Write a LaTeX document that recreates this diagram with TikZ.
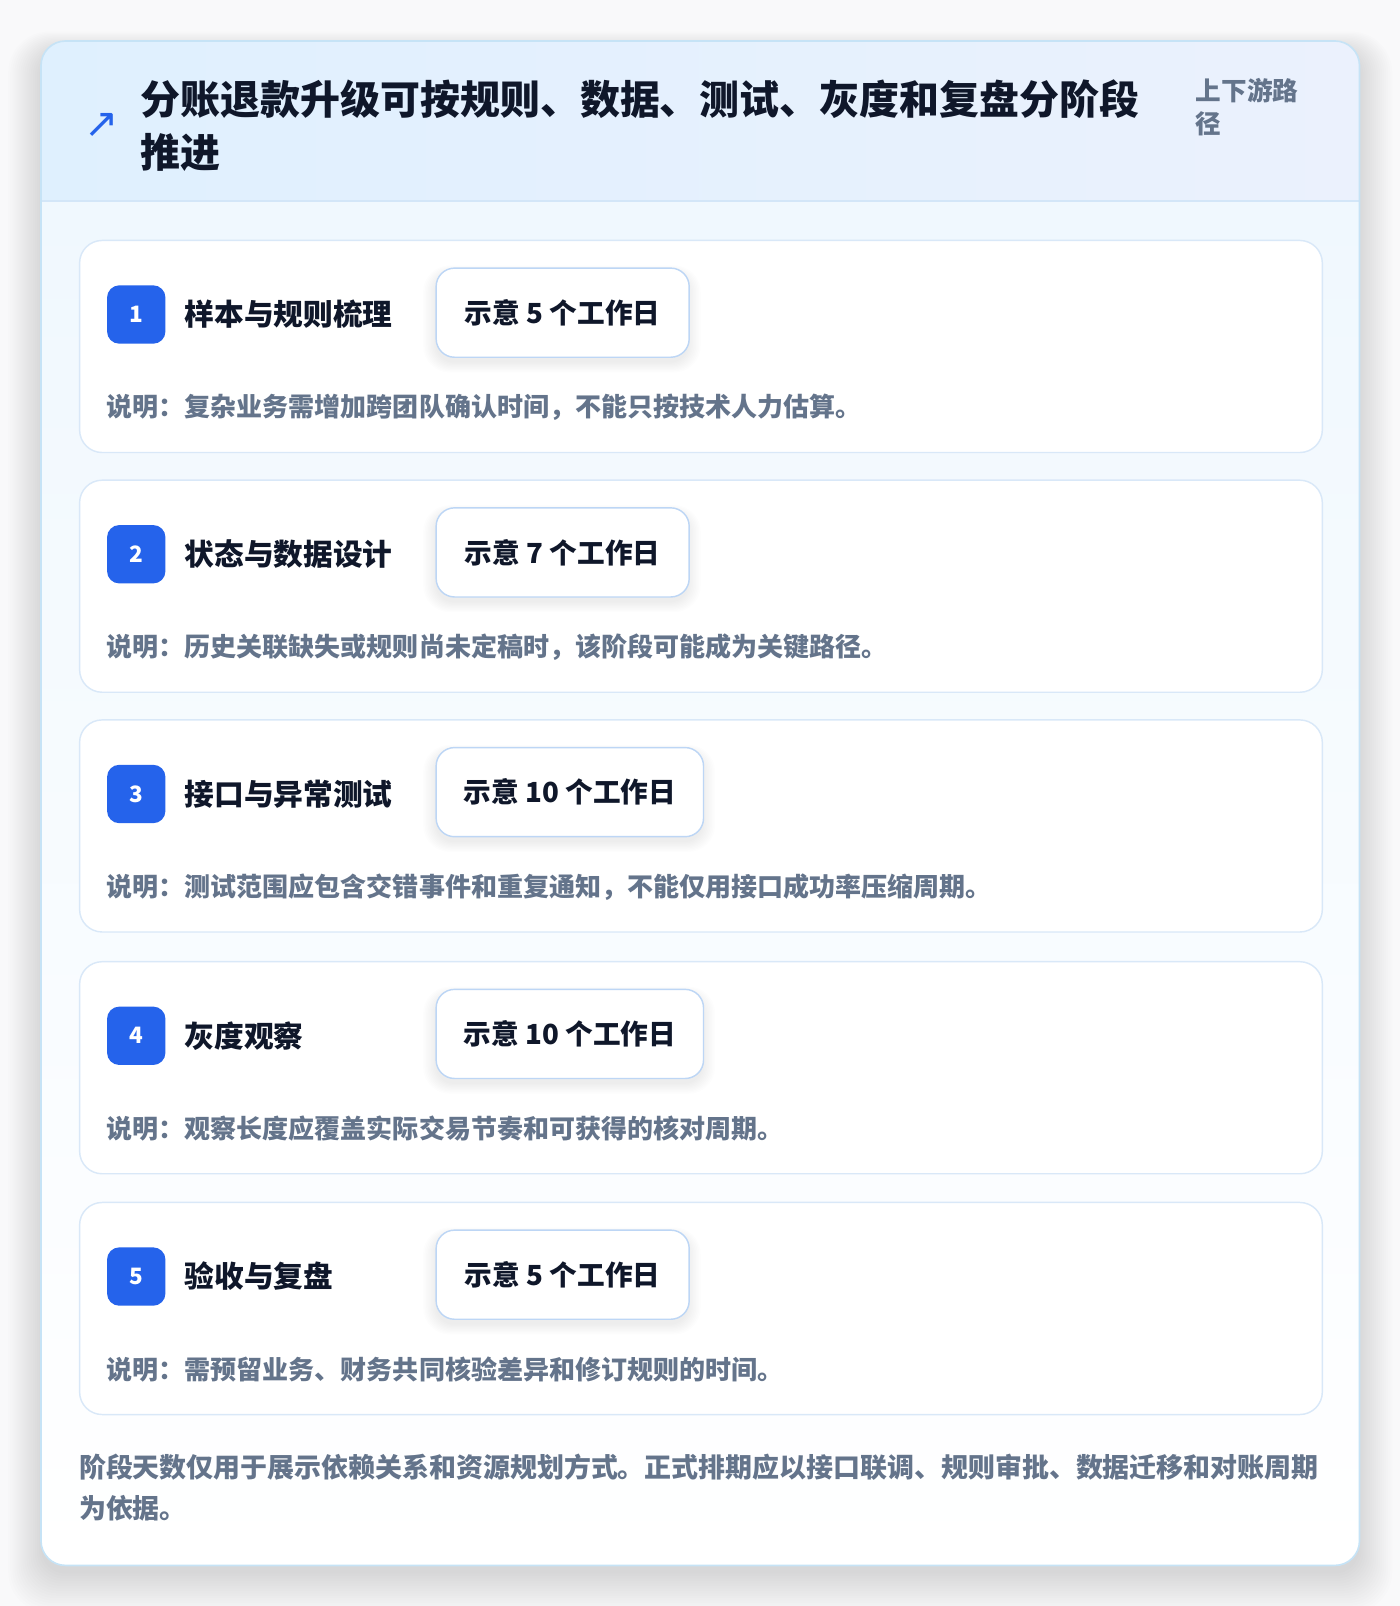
\documentclass[tikz,border=0pt]{standalone}
\usepackage{fontspec}
\setmainfont{Noto Sans CJK SC}
\newfontfamily\symfont{DejaVu Sans}
\definecolor{pagebg}{HTML}{F9F9FA}
\definecolor{outerborder}{HTML}{C6E3F6}
\definecolor{hdrl}{HTML}{DFF0FE}
\definecolor{hdrr}{HTML}{EBF1FD}
\definecolor{divider}{HTML}{D3E6F8}
\definecolor{bodytop}{HTML}{F0F8FE}
\definecolor{cardborder}{HTML}{D9E8F8}
\definecolor{pillborder}{HTML}{BDD6F5}
\definecolor{badgec}{HTML}{2563EB}
\definecolor{titlec}{HTML}{0F172A}
\definecolor{grayc}{HTML}{64748B}
\tikzset{
  card/.style={draw=cardborder, line width=1.4pt, fill=white, rounded corners=22pt, inner sep=0pt},
  badge/.style={fill=badgec, rounded corners=12pt, minimum width=57pt, minimum height=57pt, inner sep=0pt, text=white, font=\bfseries\fontsize{22}{22}\selectfont},
  steptitle/.style={anchor=west, inner sep=0pt, text=titlec, font=\bfseries\fontsize{29}{29}\selectfont},
  pill/.style={draw=pillborder, line width=1.4pt, fill=white, rounded corners=18pt, inner sep=0pt, minimum height=87pt, anchor=north west, text=titlec, font=\bfseries\fontsize{27}{27}\selectfont},
  desc/.style={anchor=west, inner sep=0pt, text=grayc, font=\bfseries\fontsize{25.4}{26}\selectfont},
}
\begin{document}
\begin{tikzpicture}[x=1pt,y=-1pt]
\useasboundingbox (0,0) rectangle (1366.5,1567.6);
\fill[pagebg] (0,0) rectangle (1366.5,1567.6);
% soft shadow of the outer card
\foreach \i in {0,...,16} {
  \fill[black, opacity=0.009, rounded corners={24+\i}] ({40-\i*2}, {50-\i*1.2}) rectangle ({1327+\i*2}, {1536+\i*2.4});
}
\begin{scope}
  \clip[rounded corners=24pt] (40,40) rectangle (1327,1528);
  \shade[top color=bodytop, bottom color=white] (40,196) rectangle (1327,1528);
  \shade[left color=hdrl, right color=hdrr] (40,40) rectangle (1327,196);
  \draw[divider, line width=1.4pt] (40,196) -- (1327,196);
\end{scope}
\draw[outerborder, line width=1.6pt, rounded corners=24pt] (40,40) rectangle (1327,1528);
% header
\node[text=badgec, inner sep=0pt, font=\symfont\fontsize{40}{40}\selectfont] (icon) at (99,122) {↗};
\node[anchor=west, inner sep=0pt, align=left, text=titlec, font=\bfseries\fontsize{39}{51}\selectfont] (title) at (137,122.5) {分账退款升级可按规则、数据、测试、灰度和复盘分阶段\\推进};
\node[anchor=west, inner sep=0pt, align=left, text=grayc, font=\bfseries\fontsize{25}{33}\selectfont] (tag) at (1167,104.5) {上下游路\\径};
% steps
\foreach \i/\ty/\name/\days/\w/\txt in {
  1/234/样本与规则梳理/5/247/说明：复杂业务需增加跨团队确认时间，不能只按技术人力估算。,
  2/468/状态与数据设计/7/247/说明：历史关联缺失或规则尚未定稿时，该阶段可能成为关键路径。,
  3/702/接口与异常测试/10/261/说明：测试范围应包含交错事件和重复通知，不能仅用接口成功率压缩周期。,
  4/938/灰度观察/10/261/说明：观察长度应覆盖实际交易节奏和可获得的核对周期。,
  5/1173/验收与复盘/5/247/说明：需预留业务、财务共同核验差异和修订规则的时间。} {
  \node[card, minimum width=1213pt, minimum height=207pt, anchor=north west] (c\i) at (77,\ty) {};
  \node[badge] (b\i) at (133,{\ty+73}) {\i};
  \node[steptitle] (t\i) at (180,{\ty+73}) {\name};
  \foreach \k in {0,...,8} {
    \fill[black, opacity=0.006, rounded corners={18+\k}] ({425-\k*1.5}, {\ty+33-\k}) rectangle ({425+\w+\k*1.5}, {\ty+120+\k*1.2});
  }
  \node[pill, minimum width=\w pt] (p\i) at (425,{\ty+27}) {示意 \days{} 个工作日};
  \node[desc] (d\i) at (104,{\ty+164}) {\txt};
}
% footer
\node[anchor=west, inner sep=0pt, align=left, text=grayc, font=\bfseries\fontsize{26.3}{40}\selectfont] (foot) at (77,1452) {阶段天数仅用于展示依赖关系和资源规划方式。正式排期应以接口联调、规则审批、数据迁移和对账周期\\为依据。};
\end{tikzpicture}
\end{document}
